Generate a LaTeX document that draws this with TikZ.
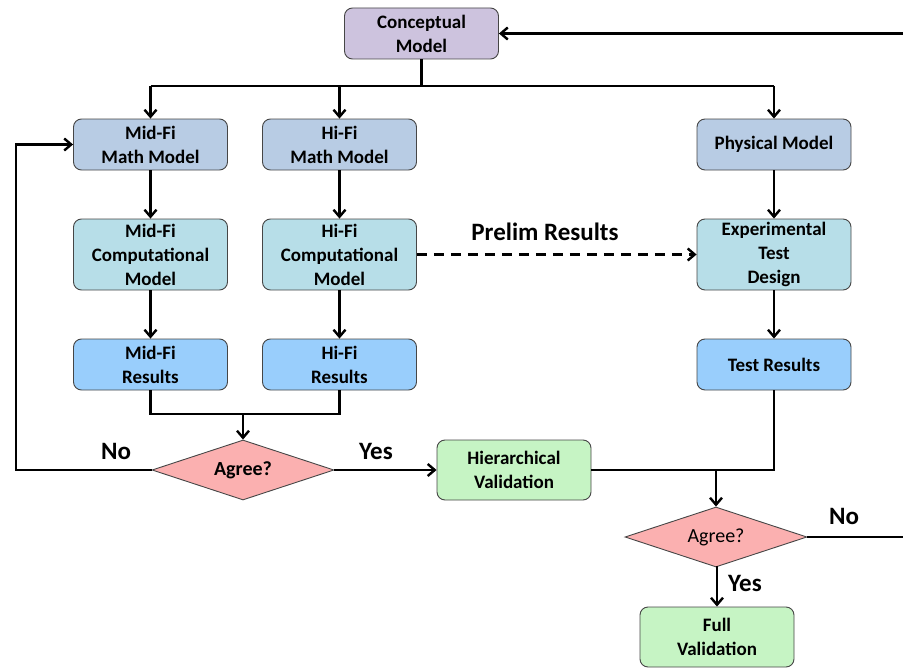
\documentclass[tikz,border=0pt]{standalone}
\usepackage{fontspec}
\setmainfont{Carlito}
\usetikzlibrary{shapes.geometric,arrows.meta}
\definecolor{cconc}{RGB}{205,195,222}
\definecolor{cmath}{RGB}{184,204,228}
\definecolor{ccomp}{RGB}{183,222,232}
\definecolor{cres}{RGB}{153,206,252}
\definecolor{cval}{RGB}{198,244,196}
\definecolor{cdia}{RGB}{251,176,176}
\definecolor{cedge}{RGB}{70,70,70}
\tikzset{
  box/.style={draw=cedge, line width=0.9pt, rounded corners=8pt, minimum width=154pt, align=center, font=\fontsize{19}{24}\selectfont\bfseries, inner sep=0pt},
  dia/.style={diamond, draw=cedge, line width=0.9pt, fill=cdia, aspect=3, inner sep=0pt, minimum width=182pt, minimum height=60pt, font=\fontsize{20}{24}\selectfont},
  conn/.style={line width=2.4pt, -{Straight Barb[length=7pt,width=12pt]}},
  line/.style={line width=2.4pt},
  lbl/.style={font=\fontsize{25}{30}\selectfont\bfseries, inner sep=0pt}
}
\begin{document}
\begin{tikzpicture}[x=1pt,y=-1pt]
\useasboundingbox (0,0) rectangle (903,669);
% nodes
\node[box, fill=cconc, minimum height=51pt] (conc) at (421.5,33.5) {Conceptual\\Model};
\node[box, fill=cmath, minimum height=51pt] (mm) at (150.5,144.5) {Mid-Fi\\Math Model};
\node[box, fill=cmath, minimum height=51pt] (hm) at (339.5,144.5) {Hi-Fi\\Math Model};
\node[box, fill=cmath, minimum height=51pt] (pm) at (774,144.5) {Physical Model};
\node[box, fill=ccomp, minimum height=71pt] (mc) at (150.5,254.5) {Mid-Fi\\Computational\\Model};
\node[box, fill=ccomp, minimum height=71pt] (hc) at (339.5,254.5) {Hi-Fi\\Computational\\Model};
\node[box, fill=ccomp, minimum height=71pt] (ed) at (774,254.5) {Experimental\\Test\\Design};
\node[box, fill=cres, minimum height=51pt] (mr) at (150.5,364.5) {Mid-Fi\\Results};
\node[box, fill=cres, minimum height=51pt] (hr) at (339.5,364.5) {Hi-Fi\\Results};
\node[box, fill=cres, minimum height=51pt] (tr) at (774,364.5) {Test Results};
\node[dia, font=\fontsize{20}{24}\selectfont\bfseries] (a1) at (243,470) {Agree?};
\node[box, fill=cval, minimum height=60pt] (hv) at (514,470) {Hierarchical\\Validation};
\node[dia] (a2) at (716,537) {Agree?};
\node[box, fill=cval, minimum height=60pt] (fv) at (717,637) {Full\\Validation};
% coordinates
\coordinate (c1) at (421.5,86);
\coordinate (mj) at (243,414);
\coordinate (vj) at (716,470);
\coordinate (r1) at (903,537);
\coordinate (r2) at (903,33.5);
\coordinate (l1) at (16,470);
\coordinate (l2) at (16,144.5);
% connectors
\draw[line] (conc.south) -- (c1);
\draw[line] (mm.north |- c1) -- (pm.north |- c1);
\draw[conn] (mm.north |- c1) -- (mm.north);
\draw[conn] (hm.north |- c1) -- (hm.north);
\draw[conn] (pm.north |- c1) -- (pm.north);
\draw[conn] (mm) -- (mc);
\draw[conn] (hm) -- (hc);
\draw[conn] (pm) -- (ed);
\draw[conn] (mc) -- (mr);
\draw[conn] (hc) -- (hr);
\draw[conn] (ed) -- (tr);
\draw[conn, dashed, dash pattern=on 10pt off 7pt] (hc.east) -- (ed.west);
\node[lbl] at (545,232) {Prelim Results};
\draw[line] (mr.south) |- (mj) -| (hr.south);
\draw[conn] (mj) -- (a1.north);
\draw[conn] (a1.west) -- (l1) -- (l2) -- (mm.west);
\node[lbl] at (116,451) {No};
\draw[conn] (a1.east) -- (hv.west);
\node[lbl] at (376,451) {Yes};
\draw[line] (hv.east) -| (tr.south);
\draw[conn] (vj) -- (a2.north);
\draw[conn] (a2.south) -- (fv.north |- a2.south) -- (fv.north);
\node[lbl, anchor=west] at (728,583) {Yes};
\draw[line] (a2.east) -- (r1);
\node[lbl] at (844,516) {No};
\draw[conn] (r2) -- (conc.east);
\end{tikzpicture}
\end{document}
